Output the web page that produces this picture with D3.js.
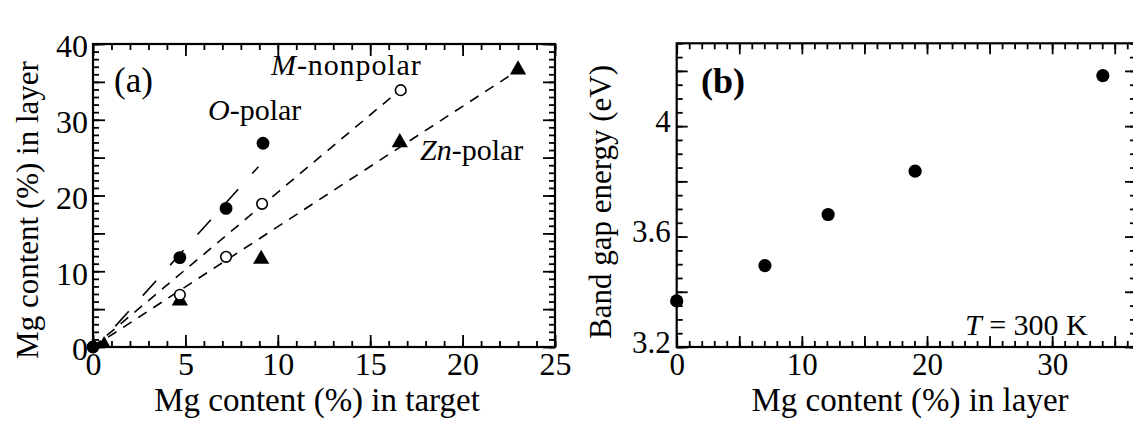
<!DOCTYPE html>
<html><head><meta charset="utf-8">
<script src="https://cdn.jsdelivr.net/npm/d3@7"></script>
<style>
html,body{margin:0;padding:0;background:#fff;}
svg{display:block;}
text{font-family:"Liberation Serif","Times New Roman",serif;fill:#000;}
</style></head>
<body>
<svg id="chart" width="1133" height="425"></svg>
<script>
// ---------- Data ----------
// Panel (a): Mg content in target (%) vs Mg content in layer (%)
const oPolarTarget = [0, 4.7, 7.2, 9.2];
const oPolarLayer  = [0, 11.8, 18.3, 26.9];
const mNonpolarTarget = [0, 4.7, 7.2, 9.15, 16.65];
const mNonpolarLayer  = [0, 6.9, 11.9, 18.9, 33.9];
const znPolarTarget = [0.6, 4.7, 9.1, 16.6, 23.0];
const znPolarLayer  = [0.2, 6.1, 11.6, 27.0, 36.6];
// linear fits (endpoints in data units)
const oPolarFit    = [[0.2, 0], [8.95, 23.8]];
const mNonpolarFit = [[0, 0], [16.3, 33.3]];
const znPolarFit   = [[0, 0], [22.6, 35.9]];
const xTicksA = [0, 5, 10, 15, 20, 25];
const yTicksA = [0, 10, 20, 30, 40];
// Panel (b): Mg content in layer (%) vs band gap energy (eV)
const layerMg = [0, 7.05, 12.1, 19.05, 34.05];
const bandGap = [3.367, 3.495, 3.68, 3.837, 4.183];
const xTicksB = [0, 10, 20, 30];
const yTicksB = [3.2, 3.6, 4.0];

// ---------- Setup ----------
const svg = d3.select("#chart");
const FONT = '"Liberation Serif","Times New Roman",serif';

const xA = d3.scaleLinear([0, 25], [93, 555]);
const yA = d3.scaleLinear([0, 40], [347, 44]);
const xB = d3.scaleLinear([0, 36.7], [676.7, 1136]);
const yB = d3.scaleLinear([3.2, 4.3], [347, 43.3]);

function tickSet(x, y, xMinor, xMajor, yMinor, yMajor, lenMinor, lenMajor) {
  const [x0, x1] = x.range(), [y0, y1] = y.range();
  const specs = [
    [d3.axisBottom(x), `translate(0,${y0})`, xMinor, lenMinor],
    [d3.axisBottom(x), `translate(0,${y0})`, xMajor, lenMajor],
    [d3.axisTop(x), `translate(0,${y1})`, xMinor, lenMinor],
    [d3.axisTop(x), `translate(0,${y1})`, xMajor, lenMajor],
    [d3.axisLeft(y), `translate(${x0},0)`, yMinor, lenMinor],
    [d3.axisLeft(y), `translate(${x0},0)`, yMajor, lenMajor],
    [d3.axisRight(y), `translate(${x1},0)`, yMinor, lenMinor],
    [d3.axisRight(y), `translate(${x1},0)`, yMajor, lenMajor],
  ];
  specs.forEach(([ax, tr, vals, len]) => {
    const g = svg.append("g").attr("transform", tr)
      .call(ax.tickValues(vals).tickSize(-len).tickFormat(""));
    g.select(".domain").remove();
    g.selectAll("text").remove();
    g.selectAll("line").attr("stroke", "#000").attr("stroke-width", 1.8);
  });
  svg.append("rect").attr("x", x0).attr("y", y1)
    .attr("width", x1 - x0).attr("height", y0 - y1)
    .attr("fill", "none").attr("stroke", "#000").attr("stroke-width", 2.2);
}

function labels(x, y, xv, yv, size, xPad, yPad, yDy) {
  const [x0] = x.range(), [y0] = y.range();
  const gx = svg.append("g").attr("transform", `translate(0,${y0})`)
    .call(d3.axisBottom(x).tickValues(xv).tickSize(0).tickPadding(xPad).tickFormat(d3.format("")));
  gx.select(".domain").remove();
  gx.selectAll("line").remove();
  gx.selectAll("text").attr("font-size", size).style("font-family", FONT).attr("fill", "#000");
  const gy = svg.append("g").attr("transform", `translate(${x0},0)`)
    .call(d3.axisLeft(y).tickValues(yv).tickSize(0).tickPadding(yPad).tickFormat(d3.format("")));
  gy.select(".domain").remove();
  gy.selectAll("line").remove();
  gy.selectAll("text").attr("font-size", size).style("font-family", FONT).attr("fill", "#000").attr("dy", yDy);
}

// ---------- Panel (a) ----------
const clipA = svg.append("clipPath").attr("id", "clipA").append("rect")
  .attr("x", 93).attr("y", 44).attr("width", 462).attr("height", 303);

const line = (xs, ys) => d3.line().x(d => xs(d[0])).y(d => ys(d[1]));
svg.append("path").datum(oPolarFit).attr("d", line(xA, yA))
  .attr("fill", "none").attr("stroke", "#000").attr("stroke-width", 1.6)
  .attr("stroke-dasharray", "20,21").attr("stroke-dashoffset", 13);
svg.append("path").datum(mNonpolarFit).attr("d", line(xA, yA))
  .attr("fill", "none").attr("stroke", "#000").attr("stroke-width", 1.6)
  .attr("stroke-dasharray", "10,8");
svg.append("path").datum(znPolarFit).attr("d", line(xA, yA))
  .attr("fill", "none").attr("stroke", "#000").attr("stroke-width", 1.6)
  .attr("stroke-dasharray", "10,8");

tickSet(xA, yA, d3.range(0, 26, 1), d3.range(0, 26, 5), d3.range(0, 41, 1), d3.range(0, 41, 5), 6, 12);
labels(xA, yA, xTicksA, yTicksA, 32, 5, 5, "0.4em");

// triangles (Zn-polar)
svg.append("g").attr("clip-path", "url(#clipA)")
  .selectAll("path").data(d3.zip(znPolarTarget, znPolarLayer)).join("path")
  .attr("d", d3.symbol(d3.symbolTriangle, 115))
  .attr("transform", d => `translate(${xA(d[0])},${yA(d[1])})`)
  .attr("fill", "#000");
// open circles (M-nonpolar)
svg.append("g").selectAll("circle").data(d3.zip(mNonpolarTarget, mNonpolarLayer)).join("circle")
  .attr("cx", d => xA(d[0])).attr("cy", d => yA(d[1])).attr("r", 5.3)
  .attr("fill", "#fff").attr("stroke", "#000").attr("stroke-width", 1.6);
// filled circles (O-polar)
svg.append("g").selectAll("circle").data(d3.zip(oPolarTarget, oPolarLayer)).join("circle")
  .attr("cx", d => xA(d[0])).attr("cy", d => yA(d[1])).attr("r", 6.4)
  .attr("fill", "#000");

svg.append("text").attr("x", 114).attr("y", 92).attr("font-size", 35).text("(a)");
const tO = svg.append("text").attr("x", 208).attr("y", 120).attr("font-size", 30);
tO.append("tspan").attr("font-style", "italic").text("O");
tO.append("tspan").text("-polar");
const tM = svg.append("text").attr("x", 271).attr("y", 75).attr("font-size", 30).attr("letter-spacing", 0.9);
tM.append("tspan").attr("font-style", "italic").text("M");
tM.append("tspan").text("-nonpolar");
const tZ = svg.append("text").attr("x", 420).attr("y", 160).attr("font-size", 30);
tZ.append("tspan").attr("font-style", "italic").text("Zn");
tZ.append("tspan").text("-polar");

svg.append("text").attr("x", 317).attr("y", 411).attr("text-anchor", "middle")
  .attr("font-size", 33).text("Mg content (%) in target");
svg.append("text").attr("transform", "translate(38,210) rotate(-90)").attr("text-anchor", "middle")
  .attr("font-size", 31).text("Mg content (%) in layer");

// ---------- Panel (b) ----------
tickSet(xB, yB, d3.range(0, 37, 1), d3.range(0, 37, 5), d3.range(3.2, 4.301, 0.05), d3.range(3.2, 4.301, 0.2), 6, 11);
labels(xB, yB, xTicksB, yTicksB, 31, 6, 6, "0.17em");

svg.append("g").selectAll("circle").data(d3.zip(layerMg, bandGap)).join("circle")
  .attr("cx", d => xB(d[0])).attr("cy", d => yB(d[1])).attr("r", 6.6)
  .attr("fill", "#000");

svg.append("text").attr("x", 701).attr("y", 93).attr("font-size", 36).attr("font-weight", "bold").text("(b)");
const tT = svg.append("text").attr("x", 965).attr("y", 335).attr("font-size", 30);
tT.append("tspan").attr("font-style", "italic").text("T");
tT.append("tspan").text(" = 300 K");

svg.append("text").attr("x", 910).attr("y", 411).attr("text-anchor", "middle")
  .attr("font-size", 33).text("Mg content (%) in layer");
svg.append("text").attr("transform", "translate(611,202) rotate(-90)").attr("text-anchor", "middle")
  .attr("font-size", 31).text("Band gap energy (eV)");
</script>
</body></html>
